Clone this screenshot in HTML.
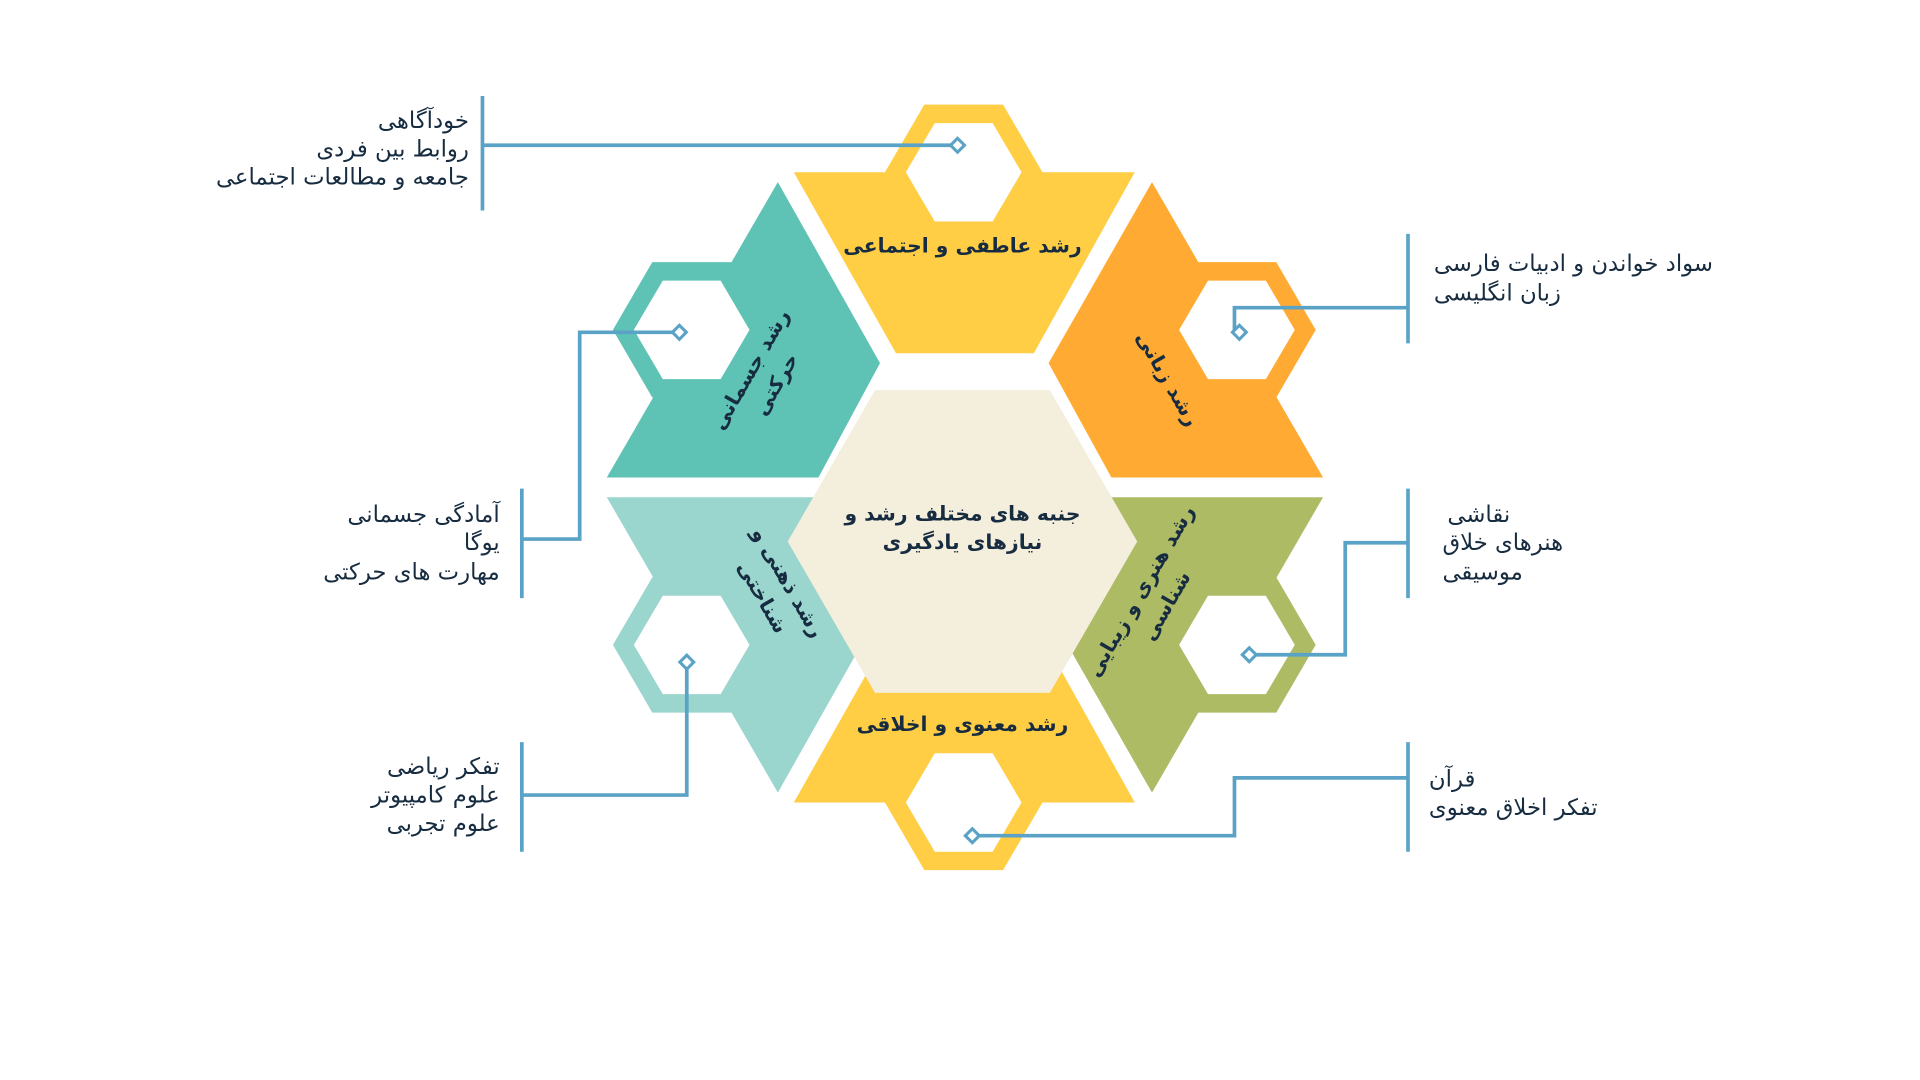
<!DOCTYPE html>
<html><head><meta charset="utf-8"><style>
html,body{margin:0;padding:0;background:#fff;}
svg{display:block;}
text{font-family:"DejaVu Sans","Liberation Sans",sans-serif;fill:#172c40;}
.s{font-size:18.5px;}
.b{font-size:16.5px;font-weight:bold;}
</style></head><body>
<svg width="1920" height="1080" viewBox="0 0 1560 877.5" xmlns="http://www.w3.org/2000/svg">
<rect width="1560" height="877.5" fill="#fff"/>
<g>
<polygon points="645,140 922,140 840,287 728,287" fill="#FFCE45"/>
<polygon points="719,140 751,85 815,85 847,140 815,195 751,195" fill="#FFCE45"/>
<polygon points="736,140 759.5,100 806.5,100 830,140 806.5,180 759.5,180" fill="#fff"/>
</g>
<g>
<polygon points="632,148 715,295 665,388 493,388" fill="#5EC2B5"/>
<polygon points="498,268 530,213 594,213 626,268 594,323 530,323" fill="#5EC2B5"/>
<polygon points="515,268 538.5,228 585.5,228 609,268 585.5,308 538.5,308" fill="#fff"/>
</g>
<g>
<polygon points="936,148 1075,388 903,388 852,295" fill="#FFAA33"/>
<polygon points="941,268 973,213 1037,213 1069,268 1037,323 973,323" fill="#FFAA33"/>
<polygon points="958,268 981.5,228 1028.5,228 1052,268 1028.5,308 981.5,308" fill="#fff"/>
</g>
<g>
<polygon points="645,652 922,652 840,505 728,505" fill="#FFCE45"/>
<polygon points="719,652 751,597 815,597 847,652 815,707 751,707" fill="#FFCE45"/>
<polygon points="736,652 759.5,612 806.5,612 830,652 806.5,692 759.5,692" fill="#fff"/>
</g>
<g>
<polygon points="493,404 665,404 715,497 632,644" fill="#9AD5CE"/>
<polygon points="498,524 530,469 594,469 626,524 594,579 530,579" fill="#9AD5CE"/>
<polygon points="515,524 538.5,484 585.5,484 609,524 585.5,564 538.5,564" fill="#fff"/>
</g>
<g>
<polygon points="903,404 1075,404 936,644 852,497" fill="#ADBB65"/>
<polygon points="941,524 973,469 1037,469 1069,524 1037,579 973,579" fill="#ADBB65"/>
<polygon points="958,524 981.5,484 1028.5,484 1052,524 1028.5,564 981.5,564" fill="#fff"/>
</g>
<polygon points="640,440 711,317 853,317 924,440 853,563 711,563" fill="#F4EEDC"/>

<g stroke="#5BA3C6" stroke-width="3" fill="none">
<line x1="392" y1="78" x2="392" y2="171"/>
<polyline points="392,118 778,118"/>
<line x1="424" y1="397" x2="424" y2="486"/>
<polyline points="424,438 471,438 471,270 552,270"/>
<line x1="424" y1="603" x2="424" y2="692"/>
<polyline points="424,646 558,646 558,538"/>
<line x1="1144" y1="190" x2="1144" y2="279"/>
<polyline points="1144,250 1003,250 1003,270 1007,270"/>
<line x1="1144" y1="397" x2="1144" y2="486"/>
<polyline points="1144,441 1093,441 1093,532 1015,532"/>
<line x1="1144" y1="603" x2="1144" y2="692"/>
<polyline points="1144,632 1003,632 1003,679 790,679"/>
</g>
<g fill="#fff" stroke="#5BA3C6" stroke-width="2.5">
<rect x="774" y="114" width="8" height="8" transform="rotate(45 778 118)"/>
<rect x="548" y="266" width="8" height="8" transform="rotate(45 552 270)"/>
<rect x="554" y="534" width="8" height="8" transform="rotate(45 558 538)"/>
<rect x="1003" y="266" width="8" height="8" transform="rotate(45 1007 270)"/>
<rect x="1011" y="528" width="8" height="8" transform="rotate(45 1015 532)"/>
<rect x="786" y="675" width="8" height="8" transform="rotate(45 790 679)"/>
</g>

<text class="b" x="782" y="205" text-anchor="middle" direction="rtl">رشد عاطفی و اجتماعی</text>
<text class="b" x="782" y="594" text-anchor="middle" direction="rtl">رشد معنوی و اخلاقی</text>
<text class="b" x="782" y="423" text-anchor="middle" direction="rtl">جنبه های مختلف رشد و</text>
<text class="b" x="782" y="446" text-anchor="middle" direction="rtl">نیازهای یادگیری</text>

<g transform="translate(618,305) rotate(-60)">
<text class="b" x="0" y="-4" text-anchor="middle" direction="rtl">رشد جسمانی</text>
<text class="b" x="0" y="20" text-anchor="middle" direction="rtl">حرکتی</text>
</g>
<g transform="translate(950,307) rotate(60)">
<text class="b" x="0" y="7" text-anchor="middle" direction="rtl">رشد زبانی</text>
</g>
<g transform="translate(632,478) rotate(60)">
<text class="b" x="0" y="-4" text-anchor="middle" direction="rtl">رشد ذهنی و</text>
<text class="b" x="0" y="20" text-anchor="middle" direction="rtl">شناختی</text>
</g>
<g transform="translate(935,485) rotate(-60)">
<text class="b" x="0" y="-4" text-anchor="middle" direction="rtl">رشد هنری و زیبایی</text>
<text class="b" x="0" y="20" text-anchor="middle" direction="rtl">شناسی</text>
</g>

<g text-anchor="start" direction="rtl">
<text class="s" x="381" y="104">خودآگاهی</text>
<text class="s" x="381" y="127">روابط بین فردی</text>
<text class="s" x="381" y="150">جامعه و مطالعات اجتماعی</text>
<text class="s" x="406" y="424">آمادگی جسمانی</text>
<text class="s" x="406" y="447">یوگا</text>
<text class="s" x="406" y="471">مهارت های حرکتی</text>
<text class="s" x="406" y="629">تفکر ریاضی</text>
<text class="s" x="406" y="652">علوم کامپیوتر</text>
<text class="s" x="406" y="675">علوم تجربی</text>
</g>
<g text-anchor="end" direction="rtl">
<text class="s" x="1165" y="220">سواد خواندن و ادبیات فارسی</text>
<text class="s" x="1165" y="244">زبان انگلیسی</text>
<text class="s" x="1176" y="424">نقاشی</text>
<text class="s" x="1172" y="447">هنرهای خلاق</text>
<text class="s" x="1172" y="471">موسیقی</text>
<text class="s" x="1161" y="639">قرآن</text>
<text class="s" x="1161" y="662">تفکر اخلاق معنوی</text>
</g>
</svg>
</body></html>
